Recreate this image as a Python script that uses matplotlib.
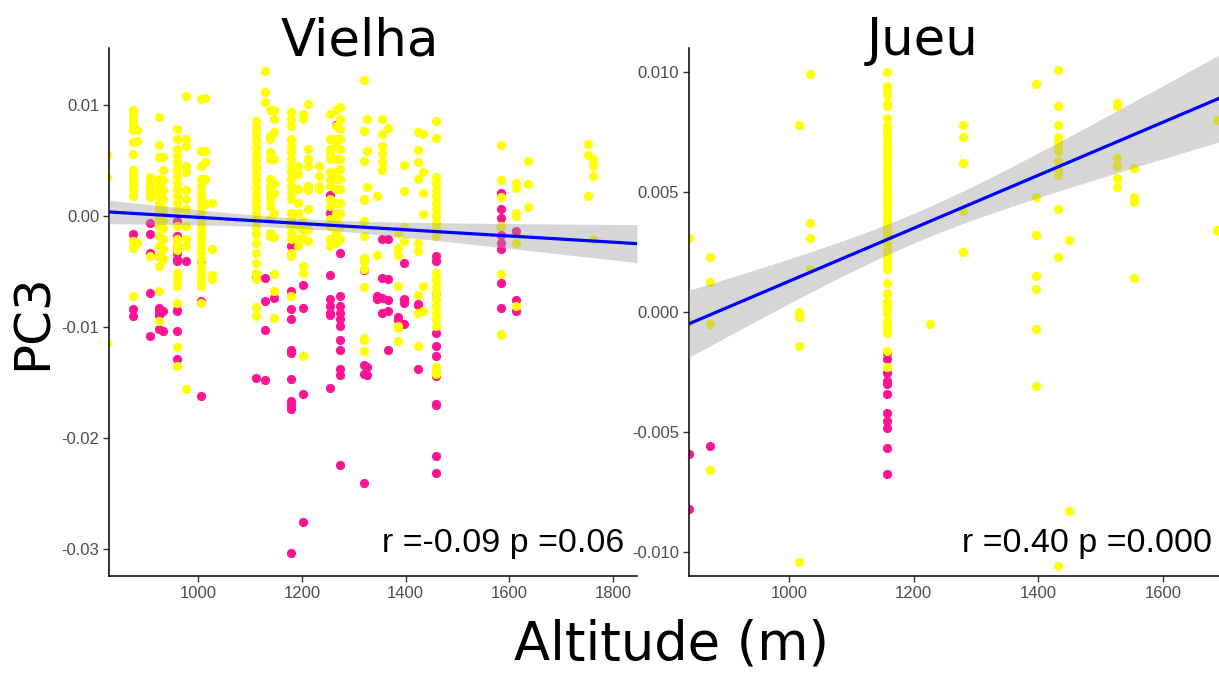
import numpy as np
import matplotlib
matplotlib.use("Agg")
import matplotlib.pyplot as plt

# PC3 values are given in thousandths (x 1e-3), grouped by altitude column
vielha_yellow = [
    (825, [5.5, 3.5, -11.4]),
    (875, [9.5, 9.1, 8.6, 8.2, 7.7, 6.6, 5.6, 4.1, 3.7, 3.2, 2.8, 2.3, 1.8, -2.3, -2.9, -7.2]),
    (882, [7.7, 6.7, -2.4]),
    (907, [3.5, 3.0, 2.6, 2.1, 1.7, -3.6]),
    (925, [8.9, 6.4, 5.3, 3.3, 2.7, 2.2, 1.8, 1.2, 0.6, -0.3, -0.9, -1.8, -2.7, -3.6, -4.5, -6.8, -9.5]),
    (932, [5.3, 4.1, 3.2, 2.3, 1.5, 0.6, -0.5, -1.1, -2.1, -3.0, -3.9]),
    (959, [7.8, 6.9, 6.0, 5.4, 4.8, 4.2, 3.6, 3.0, 2.4, 1.8, 1.2, 0.6, -0.9, -2.1, -2.7, -3.1,
           -5.1, -5.7, -6.3, -7.8, -11.8, -13.5]),
    (977, [10.8, 6.9, 6.3, 4.5, 3.9, 2.3, 1.5, 0.6, -0.9, -2.1, -2.7, -15.6]),
    (1006, [10.5, 5.8, 4.5, 3.3, 2.7, 2.1, 1.5, 0.9, 0.3, -0.3, -0.9, -1.5, -2.1, -2.7, -3.3,
            -3.9, -4.5, -5.1, -5.7, -6.3, -7.8]),
    (1013, [10.6, 5.8, 4.8, 3.3, 1.1]),
    (1026, [1.2, -3.0, -5.3, -5.7]),
    (1112, [8.5, 7.9, 7.4, 6.8, 6.2, 5.6, 5.0, 4.4, 3.8, 3.2, 2.6, 2.0, 1.4, 0.8, 0.2, -0.4,
            -1.0, -1.6, -2.4, -3.3, -4.2, -5.1, -5.7, -8.2, -9.0]),
    (1129, [13.0, 11.1, 10.2]),
    (1138, [9.5, 7.2, 6.9, 5.7, 5.1, 3.3, 2.7, 2.1, 1.5, 0.9, -0.3, -1.5, -1.8]),
    (1147, [9.5, 8.7, 7.5, 5.1, 3.0, 2.1, 0.3, -1.9, -5.2, -6.8, -9.2]),
    (1178, [9.3, 8.7, 8.1, 6.9, 6.3, 5.7, 5.1, 4.5, 3.9, 3.3, 2.7, 2.1, 1.5, 0.3, -0.3, -0.9,
            -1.5, -2.1, -3.3, -3.6, -7.2]),
    (1193, [4.5, 3.8, 2.4, 1.2, 0.3, -0.9, -2.1, -2.7]),
    (1203, [9.2, 8.7, -0.5, -1.4, -2.1, -4.5, -5.1, -12.6]),
    (1212, [10.1, 6.0, 5.1, 4.5, 2.7, 2.3, 0.6, -1.2, -2.3]),
    (1233, [4.5, 3.6, 2.7, 2.4]),
    (1255, [9.2, 6.9, 6.0, 5.6, 5.1, 3.9, 3.3, 2.7, 1.5, 0.9, -0.3, -0.9, -2.1, -2.7]),
    (1265, [9.5, 8.1, 6.9, 6.3, 5.1, 3.9, 3.3, 2.4, 1.2, 0.3, -0.3, -1.5, -2.4]),
    (1274, [9.8, 8.7, 7.8, 6.9, 6.0, 5.1, 4.2, 3.3, 2.4, 1.2, 0.3, -0.9, -2.1]),
    (1320, [12.2, 7.6, 4.9, 1.5, 1.4, -0.5, -1.8, -3.8, -4.1, -4.8, -6.4, -11.0, -11.2, -12.2]),
    (1325, [8.7, 5.8, 2.6]),
    (1345, [1.8, -3.5]),
    (1355, [8.7, 7.4, 6.3, 5.6, 4.8, 4.1]),
    (1365, [7.9]),
    (1386, [-1.5, -2.9, -3.5, -6.3, -10.1, -9.9, -11.3]),
    (1396, [4.6, 2.2, -1.0, -2.3]),
    (1423, [7.5, 5.9, 4.8, 3.3, -2.4, -3.2, -7.1, -8.7, -11.7]),
    (1433, [7.4, 3.9, 2.1, 0.2, -6.3, -8.6]),
    (1459, [8.5, 7.0, 3.5, 3.0, 2.3, 1.8, 1.2, 0.6, 0.0, -0.6, -1.2, -1.8, -5.1, -5.7, -6.3,
            -6.9, -7.5, -8.1, -8.7, -9.3, -9.9, -13.6, -13.9, -14.2]),
    (1583, [6.4, 3.2, 1.7, -0.9, -5.2, -10.6, -10.7]),
    (1612, [3.0, 2.5, 0.3, 0.0, -2.4, -8.1]),
    (1636, [4.9, 2.9, 0.8]),
    (1752, [6.5, 5.5, 1.8]),
    (1762, [5.1, 4.5, 3.6, -2.1]),
]

vielha_pink = [
    (875, [-1.6, -8.4, -9.0]),
    (907, [-0.6, -1.6, -3.3, -6.9, -10.8]),
    (925, [-3.6, -8.3, -8.6, -8.9, -10.2]),
    (932, [-8.6, -10.4]),
    (959, [-0.5, -1.8, -2.7, -3.3, -3.9, -4.1, -8.5, -8.6, -10.4, -12.9]),
    (977, [-4.1]),
    (1006, [-4.0, -7.7, -16.2]),
    (1112, [-5.6, -14.6]),
    (1129, [-5.6, -7.7, -10.3, -14.8]),
    (1147, [-7.4]),
    (1178, [-2.7, -6.8, -8.4, -9.3, -12.1, -12.3, -14.7, -16.7, -17.0, -17.4, -30.3]),
    (1203, [-6.2, -8.3, -16.0, -27.5]),
    (1255, [1.9, 0.3, -5.3, -7.5, -8.1, -8.7, -8.9, -15.5]),
    (1265, [8.2]),
    (1274, [-3.3, -7.2, -8.1, -8.7, -9.3, -9.9, -11.2, -12.1, -13.8, -14.3, -22.4]),
    (1320, [-4.9, -13.4, -14.2, -24.0]),
    (1325, [-13.6, -14.3]),
    (1345, [-7.2, -7.5]),
    (1355, [-2.1, -5.6, -7.4, -8.7]),
    (1365, [-2.1, -5.7, -7.6, -8.6, -12.1]),
    (1386, [-9.1, -9.4]),
    (1396, [-4.2, -7.5, -7.8, -9.7]),
    (1423, [-7.9, -8.0, -13.8]),
    (1459, [-3.6, -4.1, -6.9, -10.5, -11.7, -12.6, -14.4, -16.9, -17.0, -21.6, -23.1]),
    (1583, [2.1, 0.6, -0.2, -0.9, -1.7, -2.4, -3.0, -6.0, -8.3]),
    (1612, [-1.4, -7.6, -8.6]),
]

jueu_yellow = [
    (840, [3.1, -0.4]),
    (873, [2.3, 1.25, -0.5, -6.6]),
    (1017, [7.8, 0.0, -0.2, -1.4, -10.4]),
    (1034, [9.9, 3.7, 3.1, 1.8]),
    (1157, [10.0, 9.4, 9.3, 9.1, 8.7, 8.6, 8.1, 7.75, 7.6, 7.4, 7.2, 7.0, 6.8, 6.6, 6.4, 6.2,
            6.0, 5.8, 5.6, 5.4, 5.2, 5.0, 4.8, 4.6, 4.4, 4.2, 4.0, 3.8, 3.6, 3.4, 3.2, 3.0,
            2.8, 2.6, 2.4, 2.2, 2.0, 1.8, 1.2, 0.8, 0.4, 0.74, 0.32, 0.18, -0.03, -0.38,
            -0.51, -0.72, -0.86, -1.63, -2.28]),
    (1227, [-0.5]),
    (1280, [7.8, 7.3, 6.2, 4.2, 2.5]),
    (1396, [9.5, 4.8, 3.2, 1.5, 0.95, -0.7, -3.1]),
    (1432, [10.1, 8.6, 7.8, 7.3, 7.1, 6.9, 6.7, 6.3, 5.9, 5.7, 4.3, 2.3, -10.6]),
    (1450, [3.0, -8.3]),
    (1527, [8.7, 8.6, 6.4, 6.1, 5.6, 5.2]),
    (1554, [6.0, 4.8, 4.6, 1.4]),
    (1686, [8.0, 3.4]),
]

jueu_pink = [
    (840, [-5.9, -8.2]),
    (873, [-5.6]),
    (1157, [0.39, -1.7, -1.97, -2.53, -2.88, -3.0, -3.43, -4.19, -4.54, -4.82, -5.65, -6.76]),
]

# linear fits (thousandths): value at each end of the x range,
# and the 95% band: half-width at its narrowest point, where that is, and how fast it widens
vielha_fit_x = [828, 1846]
vielha_fit_y = [0.35, -2.5]
vielha_band = (0.45, 1200, 2.55e-3)
jueu_fit_x = [839, 1690]
jueu_fit_y = [-0.5, 8.9]
jueu_band = (0.62, 1200, 3.48e-3)

vielha_xticks = [1000, 1200, 1400, 1600, 1800]
vielha_yticks = [0.01, 0.0, -0.01, -0.02, -0.03]
vielha_ylabels = ["0.01", "0.00", "-0.01", "-0.02", "-0.03"]
jueu_xticks = [1000, 1200, 1400, 1600]
jueu_yticks = [0.010, 0.005, 0.0, -0.005, -0.010]
jueu_ylabels = ["0.010", "0.005", "0.000", "-0.005", "-0.010"]

stats_text = ["r =-0.09 p =0.06", "r =0.40 p =0.000"]
titles = ["Vielha", "Jueu"]

YELLOW = "#FFFF00"
PINK = "#FF1493"


def flatten(groups):
    xs, ys = [], []
    for alt, vals in groups:
        xs += [alt] * len(vals)
        ys += vals
    return np.array(xs, float), np.array(ys, float) * 1e-3


def draw_panel(ax, yellow, pink, fit_x, fit_y, band, xlim, ylim, xticks, yticks,
               ylabels, label, text_x):
    px, py = flatten(pink)
    yx, yy = flatten(yellow)
    ax.scatter(px, py, s=44, color=PINK, linewidths=0, zorder=2)
    ax.scatter(yx, yy, s=44, color=YELLOW, linewidths=0, zorder=2)

    xg = np.linspace(fit_x[0], fit_x[1], 100)
    slope = (fit_y[1] - fit_y[0]) / (fit_x[1] - fit_x[0])
    fit = fit_y[0] + slope * (xg - fit_x[0])
    h0, xc, k = band
    half = np.sqrt(h0 ** 2 + (k * (xg - xc)) ** 2)
    ax.fill_between(xg, (fit - half) * 1e-3, (fit + half) * 1e-3, color="#999999",
                    alpha=0.4, linewidth=0, zorder=3)
    ax.plot(xg, fit * 1e-3, color="#0000FF", linewidth=2.3, zorder=4)

    ax.set_xlim(*xlim)
    ax.set_ylim(*ylim)
    ax.set_xticks(xticks)
    ax.set_xticklabels([str(v) for v in xticks])
    ax.set_yticks(yticks)
    ax.set_yticklabels(ylabels)
    for sp in ["top", "right"]:
        ax.spines[sp].set_visible(False)
    for sp in ["left", "bottom"]:
        ax.spines[sp].set_linewidth(1.1)
        ax.spines[sp].set_color("black")
    ax.tick_params(direction="out", length=4, width=1, color="#333333",
                   labelsize=12, labelcolor="#4D4D4D", pad=3)
    for lab in ax.get_xticklabels() + ax.get_yticklabels():
        lab.set_family("Liberation Sans")
    ax.text(text_x, 0.045, stats_text[label], transform=ax.transAxes,
            ha="right", va="baseline", fontsize=24.5, family="Liberation Sans")


fig = plt.figure(figsize=(12.19, 6.77), dpi=100)
W, H = 1219, 677
ax1 = fig.add_axes([109 / W, 1 - 576 / H, 528 / W, 528 / H])
ax2 = fig.add_axes([688.5 / W, 1 - 576 / H, 530.5 / W, 528 / H])

draw_panel(ax1, vielha_yellow, vielha_pink, vielha_fit_x, vielha_fit_y, vielha_band,
           (828, 1846), (-0.0324, 0.0151), vielha_xticks, vielha_yticks,
           vielha_ylabels, 0, 0.976)
draw_panel(ax2, jueu_yellow, jueu_pink, jueu_fit_x, jueu_fit_y, jueu_band,
           (839, 1690), (-0.011, 0.011), jueu_xticks, jueu_yticks,
           jueu_ylabels, 1, 0.987)

fig.text(360 / W, 1 - 55 / H, titles[0], ha="center", va="baseline",
         fontsize=37, family="DejaVu Sans")
fig.text(923 / W, 1 - 55 / H, titles[1], ha="center", va="baseline",
         fontsize=37, family="DejaVu Sans")
fig.text(672 / W, 1 - 659 / H, "Altitude (m)", ha="center", va="baseline",
         fontsize=38, family="DejaVu Sans")
fig.text(33 / W, 1 - 322 / H, "PC3", ha="center", va="center", rotation=90,
         fontsize=36, family="DejaVu Sans")

fig.savefig("out.png", dpi=100)
